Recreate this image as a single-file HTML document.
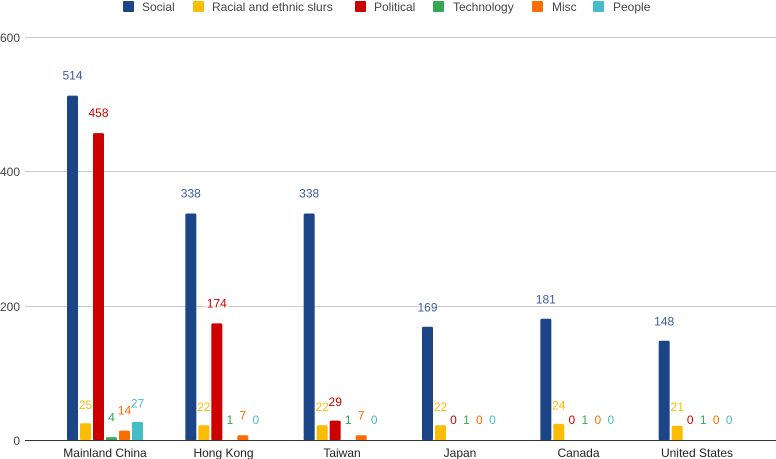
<!DOCTYPE html>
<html><head><meta charset="utf-8"><style>
html,body{margin:0;padding:0;background:#fff;}
svg{display:block;font-family:"Liberation Sans",Arial,sans-serif;}
.v{font-size:12px;text-anchor:middle;stroke:#fff;stroke-width:2px;paint-order:stroke;}
.a{fill:#3b5ba0}.b{fill:#fbbc04}.c{fill:#cc0000}.d{fill:#34a853}.e{fill:#ff6d01}.f{fill:#46bdc6}
</style></head><body>
<svg width="776" height="459" viewBox="0 0 776 459" xmlns="http://www.w3.org/2000/svg">
<g fill="#444" font-size="12">
<rect x="123" y="1" width="11" height="11" rx="1" fill="#1c4587"/><text x="142" y="11">Social</text>
<rect x="193" y="1" width="11" height="11" rx="1" fill="#fbbc04"/><text x="212" y="11">Racial and ethnic slurs</text>
<rect x="355" y="1" width="11" height="11" rx="1" fill="#cc0000"/><text x="374" y="11">Political</text>
<rect x="433" y="1" width="11" height="11" rx="1" fill="#34a853"/><text x="453" y="11">Technology</text>
<rect x="532" y="1" width="11" height="11" rx="1" fill="#ff6d01"/><text x="552" y="11">Misc</text>
<rect x="593" y="1" width="11" height="11" rx="1" fill="#46bdc6"/><text x="613" y="11">People</text>
</g>
<g stroke="#ccc" stroke-width="1">
<line x1="25" y1="37.5" x2="776" y2="37.5"/>
<line x1="25" y1="171.5" x2="776" y2="171.5"/>
<line x1="25" y1="306.5" x2="776" y2="306.5"/>
</g>
<g fill="#444" font-size="12" text-anchor="end">
<text x="20" y="42">600</text><text x="20" y="176">400</text><text x="20" y="311">200</text><text x="20" y="445">0</text>
</g>
<g>
<rect x="67" y="95.6" width="11" height="345" rx="1.5" fill="#1c4587"/>
<rect x="80" y="423.25" width="11" height="17" rx="1.5" fill="#fbbc04"/>
<rect x="93" y="133.1" width="11" height="307.4" rx="1.5" fill="#cc0000"/>
<rect x="106" y="437.3" width="11" height="3.2" rx="1" fill="#34a853"/>
<rect x="119" y="430.6" width="11" height="9.9" rx="1.5" fill="#ff6d01"/>
<rect x="132" y="421.9" width="11" height="18.6" rx="1.5" fill="#46bdc6"/>

<rect x="185.33" y="213.5" width="11" height="227" rx="1.5" fill="#1c4587"/>
<rect x="198.33" y="425.3" width="11" height="15.2" rx="1.5" fill="#fbbc04"/>
<rect x="211.33" y="323.4" width="11" height="117.1" rx="1.5" fill="#cc0000"/>
<rect x="237.33" y="435.3" width="11" height="5.2" rx="1.5" fill="#ff6d01"/>

<rect x="303.67" y="213.5" width="11" height="227" rx="1.5" fill="#1c4587"/>
<rect x="316.67" y="425.3" width="11" height="15.2" rx="1.5" fill="#fbbc04"/>
<rect x="329.67" y="420.6" width="11" height="19.9" rx="1.5" fill="#cc0000"/>
<rect x="355.67" y="435.3" width="11" height="5.2" rx="1.5" fill="#ff6d01"/>

<rect x="422" y="326.8" width="11" height="113.7" rx="1.5" fill="#1c4587"/>
<rect x="435" y="425.3" width="11" height="15.2" rx="1.5" fill="#fbbc04"/>

<rect x="540.33" y="318.7" width="11" height="121.8" rx="1.5" fill="#1c4587"/>
<rect x="553.33" y="423.9" width="11" height="16.6" rx="1.5" fill="#fbbc04"/>

<rect x="658.67" y="340.8" width="11" height="99.7" rx="1.5" fill="#1c4587"/>
<rect x="671.67" y="425.9" width="11" height="14.6" rx="1.5" fill="#fbbc04"/>
</g>
<line x1="25" y1="440.5" x2="776" y2="440.5" stroke="#333" stroke-width="1"/>
<g>
<text class="v a" x="72.5" y="79.6">514</text>
<text class="v b" x="85.5" y="409">25</text>
<text class="v c" x="98.5" y="117.1">458</text>
<text class="v d" x="111.5" y="421.3">4</text>
<text class="v e" x="124.5" y="414.6">14</text>
<text class="v f" x="137.5" y="407.5">27</text>

<text class="v a" x="190.8" y="197.5">338</text>
<text class="v b" x="203.8" y="411">22</text>
<text class="v c" x="216.8" y="307.4">174</text>
<text class="v d" x="229.8" y="424">1</text>
<text class="v e" x="242.8" y="419.3">7</text>
<text class="v f" x="255.8" y="424">0</text>

<text class="v a" x="309.2" y="197.5">338</text>
<text class="v b" x="322.2" y="411">22</text>
<text class="v c" x="335.2" y="406">29</text>
<text class="v d" x="348.2" y="424">1</text>
<text class="v e" x="361.2" y="419.3">7</text>
<text class="v f" x="374.2" y="424">0</text>

<text class="v a" x="427.5" y="311.5">169</text>
<text class="v b" x="440.5" y="411">22</text>
<text class="v c" x="453.5" y="424">0</text>
<text class="v d" x="466.5" y="424">1</text>
<text class="v e" x="479.5" y="424">0</text>
<text class="v f" x="492.5" y="424">0</text>

<text class="v a" x="545.8" y="303.5">181</text>
<text class="v b" x="558.8" y="409.5">24</text>
<text class="v c" x="571.8" y="424">0</text>
<text class="v d" x="584.8" y="424">1</text>
<text class="v e" x="597.8" y="424">0</text>
<text class="v f" x="610.8" y="424">0</text>

<text class="v a" x="664.2" y="325.5">148</text>
<text class="v b" x="677.2" y="411">21</text>
<text class="v c" x="690.2" y="424">0</text>
<text class="v d" x="703.2" y="424">1</text>
<text class="v e" x="716.2" y="424">0</text>
<text class="v f" x="729.2" y="424">0</text>
</g>
<g fill="#222" font-size="12" text-anchor="middle">
<text x="105" y="457">Mainland China</text>
<text x="223.5" y="457">Hong Kong</text>
<text x="342" y="457">Taiwan</text>
<text x="460" y="457">Japan</text>
<text x="578.5" y="457">Canada</text>
<text x="697" y="457">United States</text>
</g>
</svg>
</body></html>
